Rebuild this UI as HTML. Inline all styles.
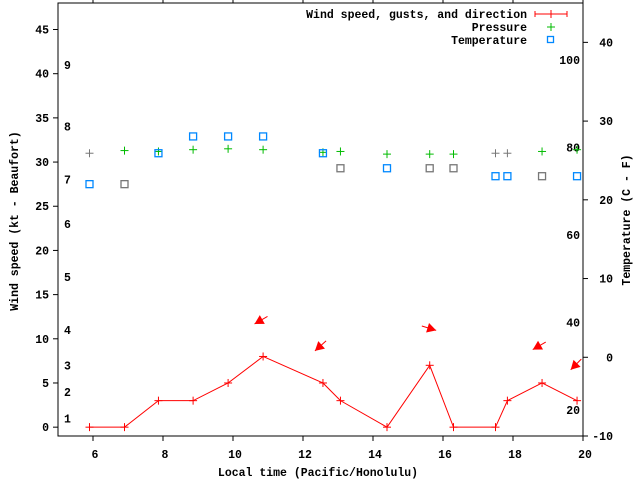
<!DOCTYPE html>
<html><head><meta charset="utf-8"><style>
html,body{margin:0;padding:0;background:#fff;}
svg{display:block;font-family:"Liberation Mono",monospace;font-weight:bold;font-size:11.5px;}
</style></head><body>
<svg id="chart" width="640" height="480" viewBox="0 0 640 480">
<rect x="0" y="0" width="640" height="480" fill="#fff"/>
<g id="axes"></g>
<g id="marks"></g>
<text x="318" y="476" text-anchor="middle">Local time (Pacific/Honolulu)</text>
<text transform="translate(18,221) rotate(-90)" text-anchor="middle">Wind speed (kt - Beaufort)</text>
<text transform="translate(630,220) rotate(-90)" text-anchor="middle">Temperature (C - F)</text>
<g>
<text x="527" y="18" text-anchor="end">Wind speed, gusts, and direction</text>
<text x="527" y="31" text-anchor="end">Pressure</text>
<text x="527" y="44" text-anchor="end">Temperature</text>
<g stroke="#f00" stroke-width="1"><line x1="535" y1="14" x2="567" y2="14"/><line x1="535" y1="11" x2="535" y2="17"/><line x1="567" y1="11" x2="567" y2="17"/><line x1="551" y1="10" x2="551" y2="18"/></g>
<g stroke="#0b0" stroke-width="1"><line x1="547" y1="27" x2="555" y2="27"/><line x1="551" y1="23" x2="551" y2="31"/></g>
<rect x="547.5" y="36.5" width="6" height="6" fill="none" stroke="#08f" stroke-width="1.3"/>
</g>
</svg>
<script>
const times = [5.9,6.9,7.87,8.86,9.86,10.86,12.57,13.07,14.4,15.62,16.3,17.5,17.84,18.83,19.83];
const windKt = [0,0,3,3,5,8,5,3,0,7,0,0,3,5,3];
const pressure = [31.0,31.3,31.2,31.4,31.5,31.4,31.1,31.2,30.9,30.9,30.9,31.0,31.0,31.2,31.4];
const pressureGray = [true,false,false,false,false,false,false,false,false,false,false,true,true,false,false];
const tempVal = [27.5,27.5,31.0,32.9,32.9,32.9,31.0,29.3,29.3,29.3,29.3,28.4,28.4,28.4,28.4];
const tempGray = [false,true,false,false,false,false,false,true,false,true,true,false,false,true,false];
const arrowTimes = [10.8,12.5,15.6,18.75,19.8];
const arrowKt = [12.1,9.2,11.2,9.2,7.1];
const arrowDirDeg = [210,222,343,210,225];
const xTicks = [6,8,10,12,14,16,18,20];
const yTicks = [0,5,10,15,20,25,30,35,40,45];
const y2Ticks = [-10,0,10,20,30,40];
const beaufortLabels = ['1','2','3','4','5','6','7','8','9'];
const beaufortKt = [1.0,4.0,7.0,11.0,17.0,23.0,28.0,34.0,41.0];
const fLabels = ['20','40','60','80','100'];
const fVals = [20,40,60,80,100];

const L=58,R=583,T=3,B=436;
const xs=t=>L+(t-5)/15*(R-L);
const ys=v=>B-(v+1)/49*(B-T);
const yc=c=>B-(c+10)/55*(B-T);
const NS='http://www.w3.org/2000/svg';
const axes=document.getElementById('axes'), marks=document.getElementById('marks');
function mk(tag,attrs,parent){const e=document.createElementNS(NS,tag);for(const k in attrs)e.setAttribute(k,attrs[k]);parent.appendChild(e);return e;}

const frame=mk('rect',{x:L,y:T,width:R-L,height:B-T,fill:'none',stroke:'#000','stroke-width':1},axes);


xTicks.forEach(t=>{
  const x=xs(t);
  mk('line',{x1:x,y1:B,x2:x,y2:B+5,stroke:'#000'},axes);
  mk('line',{x1:x,y1:T,x2:x,y2:T-5,stroke:'#000'},axes);
  const tx=mk('text',{x:x+2,y:B+22,'text-anchor':'middle'},axes);tx.textContent=t;
  
  
});
yTicks.forEach(v=>{
  const y=ys(v);
  mk('line',{x1:L,y1:y,x2:L-5,y2:y,stroke:'#000'},axes);
  const tx=mk('text',{x:49,y:y+4,'text-anchor':'end'},axes);tx.textContent=v;
  
  
});
y2Ticks.forEach(c=>{
  const y=yc(c);
  mk('line',{x1:R,y1:y,x2:R+5,y2:y,stroke:'#000'},axes);
  const tx=mk('text',{x:613,y:y+4,'text-anchor':'end'},axes);tx.textContent=c;
  
  
});
beaufortLabels.forEach((s,i)=>{
  const tx=mk('text',{x:64,y:ys(beaufortKt[i])+4},axes);tx.textContent=s;
  
  
});
fLabels.forEach((s,i)=>{
  const c=(fVals[i]-32)*5/9;
  const tx=mk('text',{x:580,y:yc(c)+4,'text-anchor':'end'},axes);tx.textContent=s;
  
  
});

times.forEach((t,i)=>{
  const x=xs(t),y=ys(pressure[i]),col=pressureGray[i]?'#777':'#0b0';
  const g=mk('g',{stroke:col},marks);
  
  
  mk('line',{x1:x-4,y1:y,x2:x+4,y2:y},g);mk('line',{x1:x,y1:y-4,x2:x,y2:y+4},g);
});
times.forEach((t,i)=>{
  const x=xs(t),y=ys(tempVal[i]);
  const r=mk('rect',{x:x-3.5,y:y-3.5,width:7,height:7,fill:'none',stroke:tempGray[i]?'#777':'#08f','stroke-width':1.3},marks);
  
  
});
const pl=mk('polyline',{points:times.map((t,i)=>xs(t)+','+ys(windKt[i])).join(' '),fill:'none',stroke:'#f00','stroke-width':1},marks);


times.forEach((t,i)=>{
  const x=xs(t),y=ys(windKt[i]);
  const g=mk('g',{stroke:'#f00'},marks);
  
  
  mk('line',{x1:x-4,y1:y,x2:x+4,y2:y},g);mk('line',{x1:x,y1:y-4,x2:x,y2:y+4},g);
});
arrowTimes.forEach((t,i)=>{
  const cx=xs(t),cy=ys(arrowKt[i]),a=arrowDirDeg[i]*Math.PI/180;
  const dx=Math.cos(a),dy=-Math.sin(a),len=15;
  const x1=cx-dx*len/2,y1=cy-dy*len/2,x2=cx+dx*len/2,y2=cy+dy*len/2;
  const g=mk('g',{},marks);
  
  
  mk('line',{x1:x1,y1:y1,x2:x2,y2:y2,stroke:'#f00'},g);
  const px=-dy,py=dx,h=9,w=5;
  const bx=x2-dx*h,by=y2-dy*h;
  mk('polygon',{points:`${x2},${y2} ${bx+px*w},${by+py*w} ${bx-px*w},${by-py*w}`,fill:'#f00'},g);
});
</script>
</body></html>
